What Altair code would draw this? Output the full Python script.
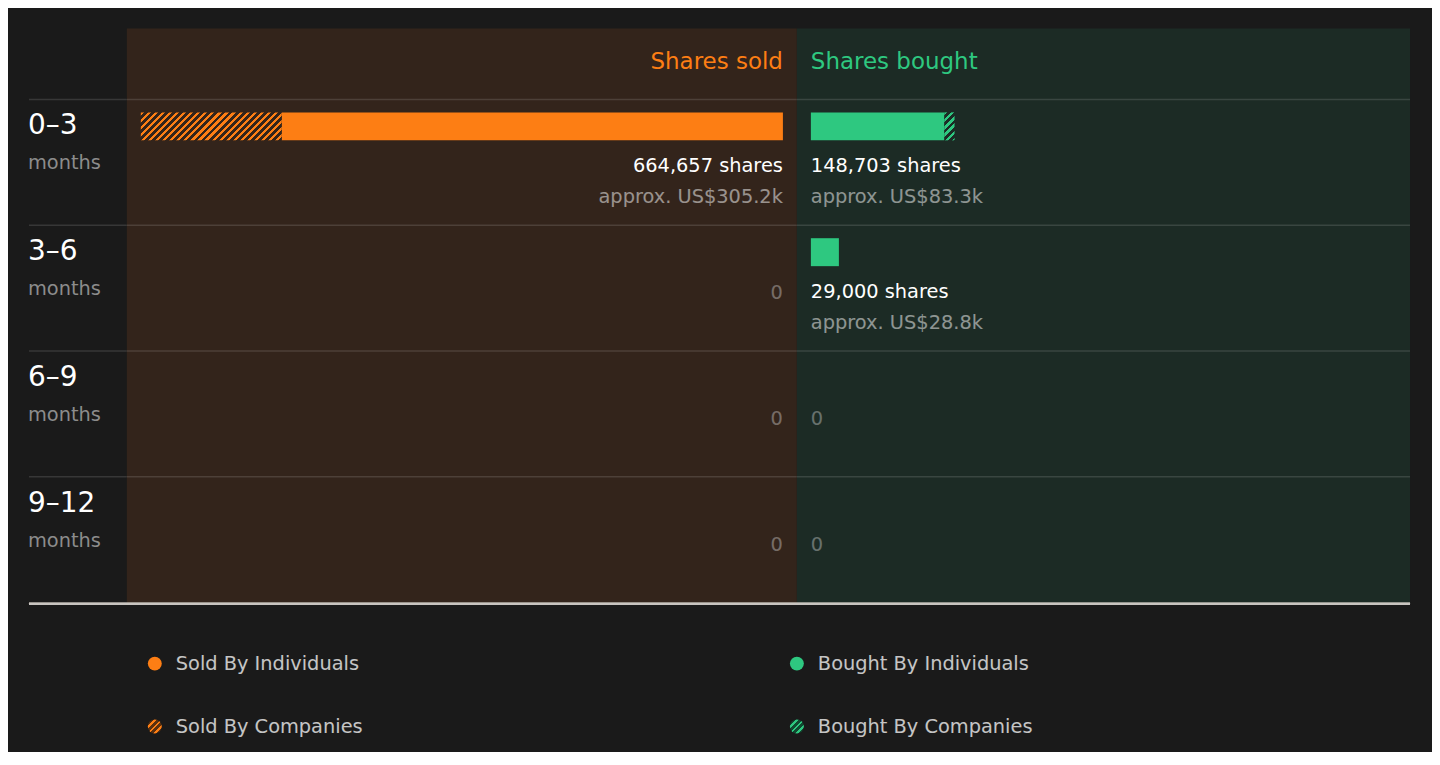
import math
import altair as alt
import pandas as pd

# ---------------- data ----------------
periods = ["0–3", "3–6", "6–9", "9–12"]
sold_individuals = [518857, 0, 0, 0]
sold_companies = [145800, 0, 0, 0]
bought_individuals = [138203, 29000, 0, 0]
bought_companies = [10500, 0, 0, 0]
sold_usd_k = [305.2, 0, 0, 0]
bought_usd_k = [83.3, 28.8, 0, 0]

legend_labels_sold = ["Sold By Individuals", "Sold By Companies"]
legend_labels_bought = ["Bought By Individuals", "Bought By Companies"]

# ---------------- style ----------------
FONT = "DejaVu Sans"
PAGE_BG = "#1a1a1a"
SOLD_BG = "#33241b"
BOUGHT_BG = "#1c2b25"
ORANGE = "#fd7e14"
GREEN = "#2ec880"
SOLD_DARK = "#5a300f"
BOUGHT_DARK = "#114a31"

LABEL_W = 98
SOLD_W = 671
BOUGHT_W = 614
HEADER_H = 71
ROW_H = 126
BODY_H = HEADER_H + ROW_H * len(periods)
PAD = 14
SPAN = SOLD_W - 2 * PAD
BAR_H = 28
LEGEND_H = 148
VAL_FS = 19.4

df = pd.DataFrame({
    "period": periods,
    "sold_ind": sold_individuals,
    "sold_comp": sold_companies,
    "bought_ind": bought_individuals,
    "bought_comp": bought_companies,
    "sold_usd": sold_usd_k,
    "bought_usd": bought_usd_k,
})
df["sold_total"] = df["sold_ind"] + df["sold_comp"]
df["bought_total"] = df["bought_ind"] + df["bought_comp"]
M = float(max(df["sold_total"].max(), df["bought_total"].max()))
PX_PER_UNIT = SPAN / M


def hatch(w, h, fg, bg, period=5.0, duty=0.5):
    r = h / w
    s = (1 + r) / (1 + r * r)
    D = (w + h) / math.sqrt(2)
    n = D / period
    stops = []
    k = 0
    while k / n < 1:
        a = k / n
        b = min((k + duty) / n, 1.0)
        c = min((k + 1) / n, 1.0)
        stops += [
            alt.GradientStop(offset=a, color=fg),
            alt.GradientStop(offset=b, color=fg),
            alt.GradientStop(offset=b, color=bg),
            alt.GradientStop(offset=c, color=bg),
        ]
        k += 1
    return alt.LinearGradient(gradient="linear", stops=stops, x1=0, y1=0, x2=s, y2=s * r)


yscale = alt.Scale(domain=periods, range=[HEADER_H, BODY_H], paddingInner=0, paddingOuter=0)
Y = alt.Y("period:N", scale=yscale, axis=None)
Y0 = alt.Y("period:N", scale=yscale, axis=None, bandPosition=0)

base = alt.Chart(df)

divider = base.mark_rule(color="#ffffff", opacity=0.13, strokeWidth=1.5).encode(y=Y0)


def panel(side):
    ind, comp, total, usd = f"{side}_ind", f"{side}_comp", f"{side}_total", f"{side}_usd"
    color = ORANGE if side == "sold" else GREEN
    bg = SOLD_BG if side == "sold" else BOUGHT_BG
    width = SOLD_W if side == "sold" else BOUGHT_W
    if side == "sold":
        xscale = alt.Scale(domain=[0, M], range=[PAD + SPAN, PAD])
        align = "right"
        title = "Shares sold"
    else:
        xscale = alt.Scale(domain=[0, M], range=[PAD, PAD + SPAN])
        align = "left"
        title = "Shares bought"

    b = base.transform_calculate(
        shares_label="format(datum." + total + ", ',') + ' shares'",
        usd_label="'approx. US$' + format(datum." + usd + ", '.1f') + 'k'",
        zero="0",
    )
    XZ = alt.X("zero:Q", scale=xscale, axis=None)

    layers = [divider]
    # solid (individuals) bars
    layers.append(
        b.transform_filter(f"datum.{ind} > 0").mark_bar(
            color=color, height=BAR_H, yOffset=-36
        ).encode(x=XZ, x2=alt.X2(f"{ind}:Q"), y=Y)
    )
    # hatched (companies) bars, one layer per non-zero row
    for i, p in enumerate(periods):
        cval = df.loc[i, comp]
        if cval > 0:
            w = cval * PX_PER_UNIT
            grad = hatch(w, BAR_H, color, bg, period=5.0, duty=0.45)
            layers.append(
                b.transform_filter(alt.datum.period == p).mark_bar(
                    fill=grad, height=BAR_H, yOffset=-36
                ).encode(
                    x=alt.X(f"{ind}:Q", scale=xscale, axis=None),
                    x2=alt.X2(f"{total}:Q"),
                    y=Y,
                )
            )
    # labels
    layers.append(
        b.transform_filter(f"datum.{total} > 0").mark_text(
            align=align, baseline="middle", font=FONT, fontSize=VAL_FS, color="#ffffff", yOffset=4
        ).encode(x=XZ, y=Y, text="shares_label:N")
    )
    layers.append(
        b.transform_filter(f"datum.{total} > 0").mark_text(
            align=align, baseline="middle", font=FONT, fontSize=VAL_FS, color="#ffffff", opacity=0.5, yOffset=35
        ).encode(x=XZ, y=Y, text="usd_label:N")
    )
    layers.append(
        b.transform_filter(f"datum.{total} == 0").mark_text(
            align=align, baseline="middle", font=FONT, fontSize=VAL_FS, color="#ffffff", opacity=0.33, yOffset=5
        ).encode(x=XZ, y=Y, text=alt.value("0"))
    )
    # header
    layers.append(
        alt.Chart(pd.DataFrame({"t": [title]})).transform_calculate(zero="0").mark_text(
            align=align, baseline="middle", font=FONT, fontSize=23, color=color
        ).encode(x=XZ, y=alt.value(34), text="t:N")
    )
    return alt.layer(*layers).properties(
        width=width, height=BODY_H, view=alt.ViewBackground(fill=bg, stroke=None)
    )


labels = alt.layer(
    divider,
    base.mark_text(align="left", baseline="middle", font=FONT, fontSize=28, color="#ffffff", yOffset=-36, dx=-1)
    .encode(x=alt.value(0), y=Y, text="period:N"),
    base.mark_text(align="left", baseline="middle", font=FONT, fontSize=19.4, color="#8c8c8c", yOffset=1, dx=-1)
    .encode(x=alt.value(0), y=Y, text=alt.value("months")),
).properties(width=LABEL_W, height=BODY_H)

# ---------------- legend ----------------
leg = pd.DataFrame({
    "label": legend_labels_sold + legend_labels_bought,
    "col": [0, 0, 1, 1],
    "row": [0, 1, 0, 1],
})
LEG_W = LABEL_W + SOLD_W + BOUGHT_W
lx = alt.Scale(domain=[0, 1], range=[LABEL_W + 28, LABEL_W + SOLD_W])
ly = alt.Scale(domain=[0, 1], range=[60, 123])
lbase = alt.Chart(leg)
LX = alt.X("col:Q", scale=lx, axis=None)
LY = alt.Y("row:Q", scale=ly, axis=None)

legend_layers = [
    lbase.mark_rule(color="#c9c5c0", strokeWidth=2).encode(y=alt.value(0)),
    lbase.mark_text(align="left", baseline="middle", font=FONT, fontSize=VAL_FS, color="#ffffff", opacity=0.75, dx=21)
    .encode(x=LX, y=LY, text="label:N"),
]
for col, (fg, dark) in enumerate([(ORANGE, SOLD_DARK), (GREEN, BOUGHT_DARK)]):
    legend_layers.append(
        lbase.transform_filter((alt.datum.col == col) & (alt.datum.row == 0))
        .mark_point(shape="circle", size=195, filled=True, fill=fg, opacity=1, strokeWidth=0)
        .encode(x=LX, y=LY)
    )
    legend_layers.append(
        lbase.transform_filter((alt.datum.col == col) & (alt.datum.row == 1))
        .mark_point(shape="circle", size=195, filled=True, fill=hatch(16, 16, fg, dark, period=5.2, duty=0.42),
                    opacity=1, strokeWidth=0)
        .encode(x=LX, y=LY)
    )
legend = alt.layer(*legend_layers).properties(width=LEG_W, height=LEGEND_H)

chart = alt.vconcat(
    alt.hconcat(labels, panel("sold"), panel("bought"), spacing=0, bounds="flush"),
    legend,
    spacing=0,
).properties(
    background=PAGE_BG,
    padding={"left": 20, "top": 20, "right": 21, "bottom": 0},
).configure_view(stroke=None).configure_concat(spacing=0)

chart.save("out.html", embed_options={"renderer": "svg", "actions": False})
